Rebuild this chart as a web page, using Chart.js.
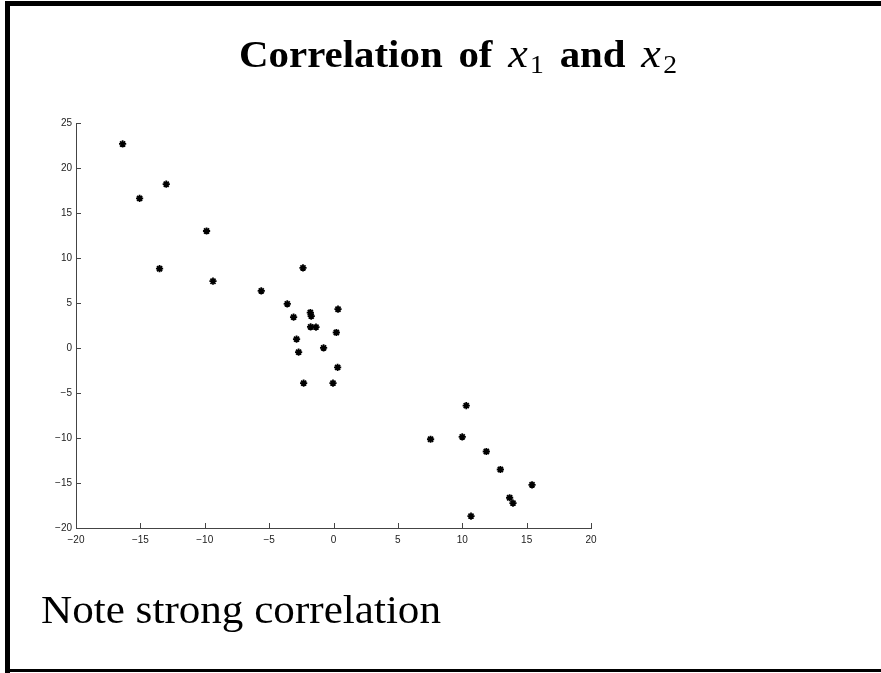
<!DOCTYPE html>
<html>
<head>
<meta charset="utf-8">
<script src="https://cdn.jsdelivr.net/npm/chart.js@4/dist/chart.umd.min.js"></script>
<style>
  body { margin: 0; background: #fff; }
  #page { position: relative; width: 881px; height: 673px; overflow: hidden; }
  #chart { position: absolute; left: 0; top: 0; }
  .bar { position: absolute; background: #000; }
  #title { position: absolute; left: 239px; top: 34px; line-height: 1;
           font-family: "Liberation Serif", serif; font-size: 37px; color: #000;
           white-space: nowrap; word-spacing: 5px; transform-origin: 0 0; }
  #title b { font-weight: bold; }
  #title i { font-style: italic; font-size: 40px; }
  #title sub { font-size: 25px; vertical-align: -6px; margin-left: 2px; }
  #note { position: absolute; left: 41px; top: 590px; line-height: 1;
          font-family: "Liberation Serif", serif; font-size: 40px; color: #000;
          white-space: nowrap; transform-origin: 0 0; }
</style>
</head>
<body>
<div id="page">
  <canvas id="chart" width="881" height="673"></canvas>
  <div class="bar" style="left:5px; top:1px; width:876px; height:5px;"></div>
  <div class="bar" style="left:5px; top:1px; width:5px; height:672px;"></div>
  <div class="bar" style="left:5px; top:669px; width:876px; height:3px;"></div>
  <span id="title"><b>Correlation of </b><i>x</i><sub>1</sub><b> and </b><i>x</i><sub>2</sub></span>
  <span id="note">Note strong correlation</span>
</div>
<script>
// Datos
const xVals = [-16.38, -15.06, -12.99, -13.51, -9.86, -9.36, -5.61, -3.59, -3.10, -2.37, -1.80,
  -1.73, 0.35, -1.78, -1.36, 0.22, -2.87, -0.77, -2.71, 0.32, -2.32, -0.04,
  10.31, 7.54, 10.00, 11.87, 12.96, 15.42, 13.68, 13.94, 10.68];
const yVals = [22.67, 16.62, 18.20, 8.81, 13.00, 7.42, 6.34, 4.90, 3.43, 8.90, 3.94,
  3.54, 4.31, 2.35, 2.32, 1.72, 0.99, 0.02, -0.46, -2.16, -3.90, -3.90,
  -6.41, -10.14, -9.88, -11.50, -13.50, -15.20, -16.64, -17.24, -18.68];
const xTicks = [-20, -15, -10, -5, 0, 5, 10, 15, 20];
const yTicks = [-20, -15, -10, -5, 0, 5, 10, 15, 20, 25];

const points = xVals.map((x, i) => ({x, y: yVals[i]}));
const fmt = (v) => (v < 0 ? '\u2212' + Math.abs(v) : String(v));

// Ajuste del ancho de los textos (la fuente original es más ancha)
const fitWidth = (id, target) => {
  const el = document.getElementById(id);
  const w = el.getBoundingClientRect().width;
  el.style.transform = `scaleX(${target / w})`;
};
fitWidth('title', 438);
fitWidth('note', 400);

// Ticks hacia adentro, como en MATLAB
const innerTicks = {
  id: 'innerTicks',
  afterDraw(chart) {
    const {ctx, chartArea, scales} = chart;
    ctx.save();
    ctx.strokeStyle = '#444';
    ctx.lineWidth = 1;
    ctx.beginPath();
    xTicks.forEach((v) => {
      const px = Math.round(scales.x.getPixelForValue(v)) + 0.5;
      ctx.moveTo(px, chartArea.bottom);
      ctx.lineTo(px, chartArea.bottom - 5);
    });
    yTicks.forEach((v) => {
      const py = Math.round(scales.y.getPixelForValue(v)) + 0.5;
      ctx.moveTo(chartArea.left, py);
      ctx.lineTo(chartArea.left + 5, py);
    });
    ctx.stroke();
    ctx.restore();
  }
};

const tickFont = {family: '"Liberation Sans", Arial, sans-serif', size: 10};

new Chart(document.getElementById('chart'), {
  type: 'scatter',
  data: {
    datasets: [{
      data: points,
      pointStyle: 'star',
      radius: 3.6,
      borderColor: '#000',
      backgroundColor: '#000',
      borderWidth: 1.8
    }]
  },
  options: {
    responsive: false,
    animation: false,
    layout: {padding: {left: 36, top: 123, right: 290, bottom: 125}},
    plugins: {legend: {display: false}, tooltip: {enabled: false}},
    scales: {
      x: {
        type: 'linear', min: -20, max: 20,
        afterFit: (s) => { s.height = 20; },
        afterBuildTicks: (s) => { s.ticks = xTicks.map((v) => ({value: v})); },
        ticks: {callback: fmt, font: tickFont, color: '#222', padding: 6, autoSkip: false, maxRotation: 0},
        grid: {display: false, drawTicks: false},
        border: {display: true, color: '#444', width: 1}
      },
      y: {
        type: 'linear', min: -20, max: 25,
        afterFit: (s) => { s.width = 40; },
        afterBuildTicks: (s) => { s.ticks = yTicks.map((v) => ({value: v})); },
        ticks: {callback: fmt, font: tickFont, color: '#222', padding: 4, autoSkip: false},
        grid: {display: false, drawTicks: false},
        border: {display: true, color: '#444', width: 1}
      }
    }
  },
  plugins: [innerTicks]
});
</script>
</body>
</html>
